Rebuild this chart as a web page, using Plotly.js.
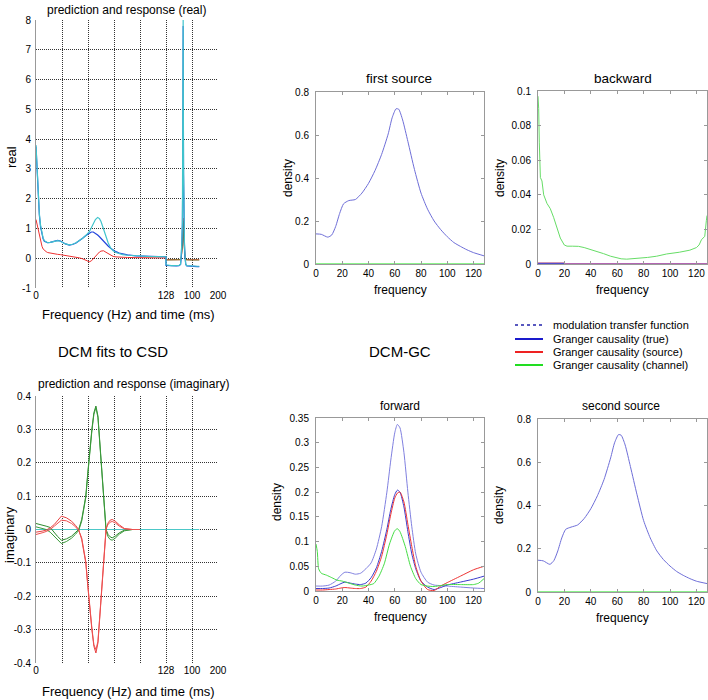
<!DOCTYPE html>
<html>
<head>
<meta charset="utf-8">
<script src="https://cdn.plot.ly/plotly-3.0.1.min.js"></script>
<style>html,body{margin:0;padding:0;background:#fff;}#chart{width:708px;height:700px;}</style>
</head>
<body>
<div id="chart"></div>
<script>
// ---------- DATA ----------
// Real part: frequency section (Hz) and time section (ms)
var freqReal = [0,1,2,3.3,4.5,5.9,7,8.2,10,11.5,14,16.4,19,21.3,24,26.2,29,32.8,36,39.4,43,45.9,49.2,52.5,54.5,56.4,58.5,60.7,62.5,64,66.5,68.9,71,73.8,76,78.7,82,85.3,90,98.4,110,120,128];
var cyanRealF = [3.8,3.0,2.2,1.5,1.1,0.84,0.68,0.59,0.54,0.52,0.53,0.55,0.58,0.59,0.57,0.52,0.48,0.45,0.47,0.52,0.59,0.67,0.77,0.89,1.02,1.17,1.3,1.37,1.33,1.23,0.98,0.72,0.52,0.33,0.25,0.19,0.15,0.12,0.1,0.074,0.06,0.055,0.05];
var blueRealF = [3.75,2.95,2.15,1.45,1.05,0.8,0.65,0.57,0.53,0.52,0.53,0.56,0.59,0.6,0.58,0.53,0.48,0.44,0.46,0.51,0.59,0.67,0.76,0.85,0.88,0.88,0.84,0.78,0.72,0.66,0.56,0.47,0.41,0.33,0.27,0.22,0.17,0.14,0.11,0.08,0.065,0.058,0.05];
var redRealF = [1.3,1.15,1.0,0.75,0.52,0.4,0.31,0.26,0.22,0.19,0.17,0.155,0.14,0.13,0.12,0.11,0.095,0.075,0.06,0.04,0.01,-0.02,-0.07,-0.12,-0.09,-0.02,0.07,0.16,0.21,0.24,0.25,0.2,0.15,0.09,0.06,0.045,0.035,0.03,0.025,0.02,0.015,0.012,0.01];

var timeReal = [0,10,20,30,40,50,56,59,61,63,64.5,65.5,66,66.5,67.5,69,71,73,76,80,90,100,110,120,128];
var cyanRealT = [-0.22,-0.24,-0.25,-0.25,-0.25,-0.24,-0.2,0.1,0.5,1.2,3.0,6.0,8.0,6.0,3.0,1.2,0.5,0.1,-0.2,-0.25,-0.26,-0.26,-0.26,-0.27,-0.27];
var blueRealT = [-0.24,-0.25,-0.26,-0.26,-0.26,-0.25,-0.21,0.05,0.45,1.1,2.8,5.7,7.8,5.6,2.8,1.1,0.45,0.05,-0.21,-0.26,-0.27,-0.27,-0.28,-0.28,-0.28];
var redRealT = [-0.05,-0.05,-0.05,-0.05,-0.05,-0.05,-0.05,0.05,0.2,0.45,0.8,1.15,1.35,1.15,0.8,0.45,0.2,0.05,-0.05,-0.05,-0.05,-0.05,-0.05,-0.05,-0.05];
var oliveRealT = [-0.06,-0.06,-0.06,-0.06,-0.06,-0.06,-0.05,0.04,0.18,0.4,0.72,1.05,1.25,1.05,0.72,0.4,0.18,0.04,-0.05,-0.06,-0.06,-0.06,-0.06,-0.06,-0.06];

// Imaginary part (frequency section, Hz)
var freqImag = [0,3,6,10,14,18,21,25,30,35,39,42,45,47,49,51,53,55,57,59,61,63,65,67,69,71,73,75,78,82,87,95,102];
var green1Imag = [0.018,0.016,0.013,0.01,0.006,-0.01,-0.02,-0.032,-0.028,-0.02,-0.01,0.0,0.03,0.06,0.1,0.17,0.24,0.3,0.35,0.37,0.34,0.26,0.16,0.07,0.0,-0.015,-0.022,-0.025,-0.02,-0.01,-0.002,0,0];
var green2Imag = [0.008,0.006,0.003,0.0,-0.008,-0.02,-0.03,-0.042,-0.036,-0.026,-0.014,-0.003,0.025,0.055,0.095,0.165,0.235,0.295,0.345,0.365,0.335,0.255,0.155,0.065,-0.005,-0.022,-0.03,-0.032,-0.026,-0.014,-0.004,0,0];
var red1Imag = [-0.008,-0.007,-0.005,-0.002,0.005,0.015,0.025,0.04,0.035,0.025,0.012,0.0,-0.03,-0.06,-0.1,-0.17,-0.24,-0.3,-0.35,-0.37,-0.34,-0.26,-0.16,-0.07,0.0,0.02,0.028,0.03,0.025,0.014,0.003,0,0];
var red2Imag = [-0.015,-0.013,-0.01,-0.006,0.0,0.01,0.018,0.028,0.026,0.018,0.008,-0.003,-0.025,-0.055,-0.095,-0.165,-0.235,-0.295,-0.345,-0.36,-0.335,-0.255,-0.155,-0.065,0.005,0.015,0.022,0.024,0.02,0.01,0.002,0,0];
var cyanImagF = [0,128], cyanImagFv = [0,0];
var cyanImagT = [0,128], cyanImagTv = [0,0];

// composite axis tick labels
var compTickVals = [0,1,2,3,4,5,6,7];
var compTickText = ['0','','','','','128','100','200'];

// Spectral densities (frequency, Hz)
var freqSrc = [0,4,9,12,15,18,21,25,30,35,40,45,50,55,58,61,63,66,70,75,80,85,90,95,100,105,110,115,120,128];
var firstSource = [0.14,0.138,0.125,0.135,0.175,0.235,0.28,0.295,0.3,0.33,0.375,0.435,0.51,0.605,0.68,0.722,0.72,0.67,0.57,0.44,0.33,0.255,0.2,0.16,0.127,0.1,0.082,0.066,0.053,0.038];
var secondSource = [0.147,0.144,0.128,0.145,0.19,0.25,0.29,0.3,0.31,0.34,0.385,0.445,0.52,0.62,0.69,0.728,0.725,0.68,0.58,0.45,0.33,0.25,0.19,0.15,0.12,0.095,0.077,0.062,0.05,0.039];
var freqEnds = [0,128], zeroEnds = [0,0];

var freqBack = [0,0.5,1,1.8,3,4.3,6.8,9.3,11.8,14.3,16.9,19.9,22,26,30.7,35,39.5,44,49.6,55,59.6,63,67.2,72,77.2,83,89.8,97.4,107,115,120,122,123.8,126.3,127.5,128];
var channelBack = [0.097,0.09,0.07,0.05,0.048,0.04,0.035,0.032,0.027,0.021,0.015,0.011,0.0103,0.0103,0.0102,0.0095,0.0085,0.0075,0.006,0.0045,0.0035,0.003,0.0028,0.003,0.0033,0.0038,0.0045,0.0058,0.0068,0.008,0.0095,0.011,0.014,0.016,0.025,0.028];
var freqBackLow = [0,20], sourceBackLow = [0.0006,0.0006], trueBackLow = [0.0004,0.0004];

var freqFwd = [0,5,10,15,19,22,26,30,34,38,42,46,50,54,57,60,62,64,67,70,73,76,80,85,90,95,100,110,120,128];
var mtfFwd = [0.01,0.01,0.012,0.02,0.032,0.038,0.037,0.034,0.036,0.045,0.057,0.085,0.13,0.2,0.265,0.32,0.337,0.33,0.28,0.2,0.13,0.075,0.038,0.018,0.012,0.011,0.01,0.008,0.006,0.005];
var trueFwd = [0.005,0.005,0.006,0.01,0.015,0.018,0.016,0.014,0.013,0.016,0.027,0.047,0.08,0.125,0.165,0.195,0.204,0.2,0.17,0.12,0.075,0.045,0.02,0.008,0.003,0.007,0.012,0.018,0.024,0.03];
var sourceFwd = [0.002,0.002,0.003,0.004,0.006,0.007,0.006,0.005,0.005,0.008,0.02,0.04,0.07,0.115,0.155,0.188,0.198,0.2,0.18,0.135,0.09,0.05,0.02,0.003,0.001,0.01,0.017,0.03,0.043,0.05];
var freqFwdCh = [0,1,2,4,8,12,16,20,25,30,35,40,44,48,52,56,60,62,64,68,72,76,80,85,90,95,100,110,120,124,128];
var channelFwd = [0.095,0.08,0.045,0.036,0.032,0.027,0.022,0.02,0.016,0.012,0.01,0.012,0.015,0.03,0.055,0.095,0.122,0.126,0.12,0.09,0.05,0.025,0.013,0.01,0.009,0.011,0.013,0.013,0.013,0.016,0.025];

var legendLabels = ['modulation transfer function','Granger causality (true)','Granger causality (source)','Granger causality (channel)'];

// ---------- helpers ----------
var W = 708, H = 700;
function px(x){return x/W;}
function py(y){return 1 - y/H;}
// composite axis: 0..128 Hz -> 0..5 units, time 0..200 ms -> 5..7 units
function fx(f){return f/25.6;}
function tx(t){return 5 + t/100;}
function join(fArr, fVals, tArr, tVals){
  return {x: fArr.map(fx).concat(tArr.map(tx)), y: fVals.concat(tVals)};
}

var FONT = 'Liberation Sans, Arial, Helvetica, sans-serif';
var traces = [];
function add(tr){traces.push(tr);}

// Real panel
var cR = join(freqReal, cyanRealF, timeReal, cyanRealT);
var bR = join(freqReal, blueRealF, timeReal, blueRealT);
var rR = join(freqReal, redRealF, timeReal, redRealT);
add({x: rR.x, y: rR.y, xaxis:'x', yaxis:'y', mode:'lines', line:{color:'#ee3030', width:1}});
add({x: timeReal.map(tx), y: oliveRealT, xaxis:'x', yaxis:'y', mode:'lines', line:{color:'#6b7a2a', width:1}});
add({x: bR.x, y: bR.y, xaxis:'x', yaxis:'y', mode:'lines', line:{color:'#2244dd', width:1.2}});
add({x: cR.x, y: cR.y, xaxis:'x', yaxis:'y', mode:'lines', line:{color:'#40c4cc', width:1.2}});

// Imag panel
var cI = join(cyanImagF, cyanImagFv, cyanImagT, cyanImagTv);
add({x: cI.x, y: cI.y, xaxis:'x2', yaxis:'y2', mode:'lines', line:{color:'#4cc8c8', width:1.2}});
add({x: freqImag.map(fx), y: green1Imag, xaxis:'x2', yaxis:'y2', mode:'lines', line:{color:'#2e8b2e', width:1}});
add({x: freqImag.map(fx), y: green2Imag, xaxis:'x2', yaxis:'y2', mode:'lines', line:{color:'#3a9a3a', width:1}});
add({x: freqImag.map(fx), y: red1Imag, xaxis:'x2', yaxis:'y2', mode:'lines', line:{color:'#e84040', width:1}});
add({x: freqImag.map(fx), y: red2Imag, xaxis:'x2', yaxis:'y2', mode:'lines', line:{color:'#ee5050', width:1}});

// First source
add({x: freqEnds, y: zeroEnds, xaxis:'x3', yaxis:'y3', mode:'lines', line:{color:'#66ee66', width:1.5}});
add({x: freqSrc, y: firstSource, xaxis:'x3', yaxis:'y3', mode:'lines', line:{color:'#6e6ed8', width:1, shape:'spline', smoothing:0.6}});
// Backward
add({x: freqEnds, y: zeroEnds, xaxis:'x4', yaxis:'y4', mode:'lines', line:{color:'#993399', width:1.5}});
add({x: freqBackLow, y: sourceBackLow, xaxis:'x4', yaxis:'y4', mode:'lines', line:{color:'#ee6666', width:1}});
add({x: freqBackLow, y: trueBackLow, xaxis:'x4', yaxis:'y4', mode:'lines', line:{color:'#3344dd', width:1}});
add({x: freqBack, y: channelBack, xaxis:'x4', yaxis:'y4', mode:'lines', line:{color:'#66dd66', width:1}});
// Forward
add({x: freqFwd, y: mtfFwd, xaxis:'x5', yaxis:'y5', mode:'lines', line:{color:'#8080e0', width:1, shape:'spline', smoothing:0.6}});
add({x: freqFwd, y: trueFwd, xaxis:'x5', yaxis:'y5', mode:'lines', line:{color:'#3a3acc', width:1, shape:'spline', smoothing:0.6}});
add({x: freqFwd, y: sourceFwd, xaxis:'x5', yaxis:'y5', mode:'lines', line:{color:'#ee3333', width:1, shape:'spline', smoothing:0.6}});
add({x: freqFwdCh, y: channelFwd, xaxis:'x5', yaxis:'y5', mode:'lines', line:{color:'#44dd44', width:1, shape:'spline', smoothing:0.6}});
// Second source
add({x: freqEnds, y: zeroEnds, xaxis:'x6', yaxis:'y6', mode:'lines', line:{color:'#66ee66', width:1.5}});
add({x: freqSrc, y: secondSource, xaxis:'x6', yaxis:'y6', mode:'lines', line:{color:'#6e6ed8', width:1, shape:'spline', smoothing:0.6}});

// ---------- axes ----------
var tickFont = {family: FONT, size: 10, color:'#000'};
function leftX(domain, anchor){
  return {domain: domain, anchor: anchor, range:[0,7], tickmode:'array', tickvals: compTickVals, ticktext: compTickText,
    showgrid:true, gridcolor:'#333', griddash:'1px,1px', gridwidth:1, zeroline:false, showline:false, ticks:'', tickfont: tickFont, fixedrange:true};
}
function leftY(domain, anchor, range, vals, texts){
  return {domain: domain, anchor: anchor, range: range, tickmode:'array', tickvals: vals, ticktext: texts,
    showgrid:true, gridcolor:'#333', griddash:'1px,1px', gridwidth:1, zeroline:false, showline:true, linecolor:'#999', linewidth:1, ticks:'', ticklabelstandoff:2, tickfont: tickFont, fixedrange:true};
}
function rightX(domain, anchor){
  return {domain: domain, anchor: anchor, range:[0,128], tickmode:'array', tickvals:[0,20,40,60,80,100,120],
    showgrid:false, zeroline:false, showline:true, mirror:'ticks', linecolor:'#999', linewidth:1, ticks:'inside', ticklen:3, tickcolor:'#999', tickfont: tickFont, fixedrange:true};
}
function rightY(domain, anchor, range, vals, texts){
  return {domain: domain, anchor: anchor, range: range, tickmode:'array', tickvals: vals, ticktext: texts,
    showgrid:false, zeroline:false, showline:true, mirror:'ticks', linecolor:'#999', linewidth:1, ticks:'inside', ticklen:3, tickcolor:'#999', ticklabelstandoff:4, tickfont: tickFont, fixedrange:true};
}

var realVals = [-1,0,1,2,3,4,5,6,7,8], realText = ['-1','0','1','2','3','4','5','6','7','8'];
var imagVals = [-0.4,-0.3,-0.2,-0.1,0,0.1,0.2,0.3,0.4], imagText = ['-0.4','-0.3','-0.2','-0.1','0','0.1','0.2','0.3','0.4'];

var xL = [px(36), px(218)];
var xM = [px(316), px(484)];
var xR = [px(538), px(707)];

var layout = {
  width: W, height: H, margin:{l:0,r:0,t:0,b:0}, showlegend:false,
  paper_bgcolor:'#fff', plot_bgcolor:'#fff',
  font:{family: FONT, color:'#000'},
  xaxis: leftX(xL, 'y'),
  yaxis: leftY([py(288), py(20)], 'x', [-1,8], realVals, realText),
  xaxis2: leftX(xL, 'y2'),
  yaxis2: leftY([py(663), py(396)], 'x2', [-0.4,0.4], imagVals, imagText),
  xaxis3: rightX(xM, 'y3'),
  yaxis3: rightY([py(264), py(92)], 'x3', [0,0.8], [0,0.2,0.4,0.6,0.8], ['0','0.2','0.4','0.6','0.8']),
  xaxis4: rightX(xR, 'y4'),
  yaxis4: rightY([py(264), py(91)], 'x4', [0,0.1], [0,0.02,0.04,0.06,0.08,0.1], ['0','0.02','0.04','0.06','0.08','0.1']),
  xaxis5: rightX(xM, 'y5'),
  yaxis5: rightY([py(591), py(418)], 'x5', [0,0.35], [0,0.05,0.1,0.15,0.2,0.25,0.3,0.35], ['0','0.05','0.1','0.15','0.2','0.25','0.3','0.35']),
  xaxis6: rightX(xR, 'y6'),
  yaxis6: rightY([py(592), py(419)], 'x6', [0,0.8], [0,0.2,0.4,0.6,0.8], ['0','0.2','0.4','0.6','0.8']),
  annotations: [], shapes: []
};

function ann(text, x, y, size, angle){
  layout.annotations.push({text: text, xref:'paper', yref:'paper', x: px(x), y: py(y), xanchor:'center', yanchor:'middle',
    showarrow:false, textangle: angle||0, font:{family: FONT, size: size, color:'#000'}});
}
// titles
ann('prediction and response (real)', 126, 10, 12);
ann('DCM fits to CSD', 113, 351, 15);
ann('DCM-GC', 400, 351, 15);
ann('prediction and response (imaginary)', 133, 384, 12);
ann('first source', 399, 78, 13.5);
ann('backward', 623, 78, 13.5);
ann('forward', 400, 406, 12);
ann('second source', 621, 406, 12);
// axis labels
ann('real', 11, 157, 13, -90);
ann('Frequency (Hz) and time (ms)', 128, 314, 13);
ann('imaginary', 9, 535, 13, -90);
ann('Frequency (Hz) and time (ms)', 128, 691, 13);
ann('density', 288, 178, 12, -90);
ann('frequency', 400, 290, 12);
ann('density', 500, 178, 12, -90);
ann('frequency', 622, 290, 12);
ann('density', 277, 502, 12, -90);
ann('frequency', 400, 617, 12);
ann('density', 499, 505, 12, -90);
ann('frequency', 622, 618, 12);

// legend
var legColors = ['#2222aa','#1a1acc','#ee2222','#22dd22'];
var legDash = ['dot','solid','solid','solid'];
var legY = [325, 339, 352, 365];
for (var i=0;i<legendLabels.length;i++){
  layout.shapes.push({type:'line', xref:'paper', yref:'paper', x0: px(515), x1: px(543), y0: py(legY[i]), y1: py(legY[i]),
    line:{color: legColors[i], width: i===0?1.5:2, dash: legDash[i]}});
  layout.annotations.push({text: legendLabels[i], xref:'paper', yref:'paper', x: px(551), y: py(legY[i]), xanchor:'left', yanchor:'middle',
    showarrow:false, font:{family: FONT, size: 11, color:'#000'}});
}

Plotly.newPlot('chart', traces, layout, {staticPlot:true, displayModeBar:false});
</script>
</body>
</html>
